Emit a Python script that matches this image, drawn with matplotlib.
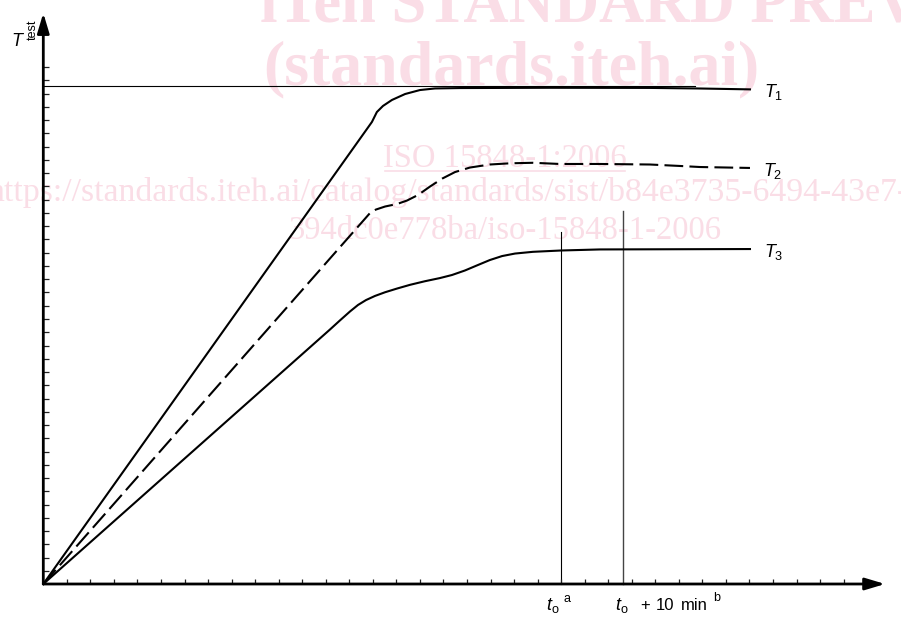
import matplotlib
matplotlib.use("Agg")
import matplotlib.pyplot as plt
import numpy as np

plt.rcParams['mathtext.fontset'] = 'custom'
plt.rcParams['mathtext.it'] = 'Liberation Sans:italic'
plt.rcParams['mathtext.rm'] = 'Liberation Sans'
plt.rcParams['font.family'] = ['Liberation Sans', 'DejaVu Sans']

# ---- data (in tick units) ----
t1_x = [0.0, 13.96, 14.17, 14.43, 14.81, 15.37, 16.00, 16.64, 17.70, 21.52, 25.77, 27.77, 30.02]
t1_y = [0.0, 34.87, 35.62, 36.08, 36.53, 36.98, 37.28, 37.40, 37.43, 37.45, 37.44, 37.40, 37.33]

t2_x = [0.0, 13.88, 14.13, 14.52, 15.03, 15.45, 15.92, 16.43, 16.95, 17.49, 18.12, 18.97, 19.82,
        20.80, 21.95, 23.65, 25.77, 27.04, 27.90, 30.02]
t2_y = [0.0, 28.00, 28.26, 28.49, 28.68, 28.94, 29.36, 30.00, 30.60, 31.09, 31.43, 31.66, 31.75,
        31.79, 31.70, 31.70, 31.66, 31.55, 31.47, 31.40]

t3_x = [0.0, 12.18, 12.60, 13.03, 13.37, 13.71, 14.09, 14.52, 15.03, 15.58, 16.21, 16.85, 17.36,
        17.91, 18.47, 18.97, 19.49, 20.04, 20.80, 21.99, 23.65, 30.02]
t3_y = [0.0, 19.21, 19.89, 20.57, 21.06, 21.43, 21.74, 22.02, 22.30, 22.58, 22.85, 23.09, 23.32,
        23.66, 24.08, 24.45, 24.75, 24.94, 25.07, 25.17, 25.25, 25.28]

ref_level = 37.61          # thin horizontal reference line (T1 level)
ref_end = 27.7
t0 = 21.99                 # t_o
t0_top = 26.57
t10 = 24.62                # t_o + 10 min
t10_top = 28.15

x_ticks = np.arange(1, 35)
y_ticks = np.arange(1, 40)
x_axis_end = 35.76
y_axis_end = 43.09

labels = ["$T_1$", "$T_2$", "$T_3$"]

# ---- layout ----
W, H = 901, 619
X0, Y0 = 43.3, 584.0
SX, SY = 23.54, 13.25

def px(x, y):
    return ((x - X0) / SX, (Y0 - y) / SY)

fig = plt.figure(figsize=(W / 100, H / 100), dpi=100)
ax = fig.add_axes([0, 0, 1, 1])
ax.set_xlim(-X0 / SX, (W - X0) / SX)
ax.set_ylim(-(H - Y0) / SY, Y0 / SY)
ax.axis('off')

# watermark
pink = '#fadde6'
wm = dict(family=['Liberation Serif', 'DejaVu Serif'], color=pink, zorder=0)
ax.text(*px(655, 22), "iTeh STANDARD PREVIEW", fontsize=45, fontweight='bold', ha='center', va='baseline', **wm)
ax.text(*px(511, 84), "(standards.iteh.ai)", fontsize=46, fontweight='bold', ha='center', va='baseline', **wm)
ax.text(*px(505, 167), "ISO 15848-1:2006", fontsize=23.5, ha='center', va='baseline', **wm)
ax.plot([(385 - X0) / SX, (625 - X0) / SX], [(Y0 - 171) / SY] * 2, color=pink, lw=1.2, zorder=0)
ax.text(*px(448, 201), "https://standards.iteh.ai/catalog/standards/sist/b84e3735-6494-43e7-",
        fontsize=24.3, ha='center', va='baseline', **wm)
ax.text(*px(505, 239), "394dc0e778ba/iso-15848-1-2006", fontsize=23.5, ha='center', va='baseline', **wm)

# axes with arrows
ax.annotate('', xy=(x_axis_end, 0), xytext=(0, 0),
            arrowprops=dict(arrowstyle='-|>,head_length=0.6,head_width=0.18', lw=2,
                            color='black', shrinkA=0, shrinkB=0, mutation_scale=20), zorder=5)
ax.annotate('', xy=(0, y_axis_end), xytext=(0, 0),
            arrowprops=dict(arrowstyle='-|>,head_length=0.6,head_width=0.18', lw=2,
                            color='black', shrinkA=0, shrinkB=0, mutation_scale=20), zorder=5)

# ticks
ax.vlines(x_ticks, 0, 5 / SY, color='#222222', lw=0.9, zorder=4)
ax.hlines(y_ticks, 0, 6 / SX, color='#222222', lw=0.9, zorder=4)

# reference lines
ax.plot([0, ref_end], [ref_level, ref_level], color='black', lw=0.8, zorder=3)
ax.plot([t0, t0], [0, t0_top], color='black', lw=0.8, zorder=3)
ax.plot([t10, t10], [0, t10_top], color='#444444', lw=1.0, zorder=3)

# curves
ax.plot(t1_x, t1_y, color='black', lw=1.5, solid_joinstyle='round', zorder=4)
ax.plot(t2_x, t2_y, color='black', lw=1.5, dashes=(9, 3), zorder=4)
ax.plot(t3_x, t3_y, color='black', lw=1.5, solid_joinstyle='round', zorder=4)

# curve labels
for lab, (lx, ly) in zip(labels, [(764, 97), (763, 176), (764, 257)]):
    ax.text(*px(lx, ly), lab, fontsize=13, ha='left', va='baseline')

# y label T_test
ax.text(*px(11, 46), "$T$", fontsize=13, ha='left', va='baseline')
ax.text(*px(33, 40), "test", fontsize=9, rotation=90, ha='center', va='bottom')

# x labels
ax.text(*px(546, 610), r"$t_{\mathrm{o}}$", fontsize=13, ha='left', va='baseline')
ax.text(*px(564, 602), "a", fontsize=9, ha='left', va='baseline')
ax.text(*px(615, 610), r"$t_{\mathrm{o}}$", fontsize=13, ha='left', va='baseline')
ax.text(*px(640, 610), "+", fontsize=12, ha='left', va='baseline')
ax.text(*px(656, 610), "10", fontsize=12, ha='left', va='baseline')
ax.text(*px(681, 610), "min", fontsize=12, ha='left', va='baseline')
ax.text(*px(713, 601), "b", fontsize=9, ha='left', va='baseline')

fig.savefig("out.png", dpi=100)
